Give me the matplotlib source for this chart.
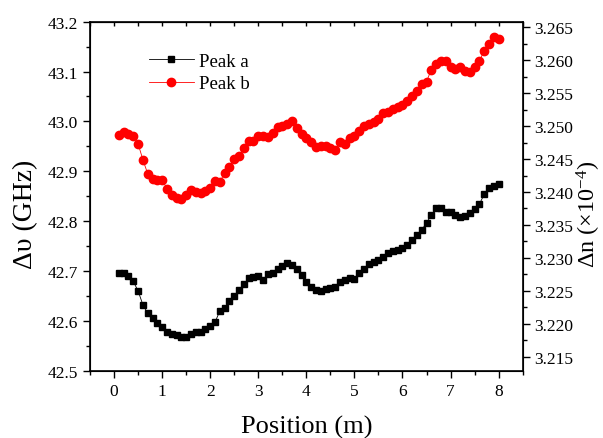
import matplotlib
matplotlib.use("Agg")
import matplotlib.pyplot as plt
from matplotlib.ticker import MultipleLocator, FormatStrFormatter

plt.rcParams['font.family'] = ['Liberation Serif', 'DejaVu Serif']
plt.rcParams['mathtext.default'] = 'regular'

# Posizioni (m)
position = [0.1, 0.2, 0.3, 0.4, 0.5, 0.6, 0.7, 0.8, 0.9, 1.0,
            1.1, 1.2, 1.3, 1.4, 1.5, 1.6, 1.7, 1.8, 1.9, 2.0,
            2.1, 2.2, 2.3, 2.4, 2.5, 2.6, 2.7, 2.8, 2.9, 3.0,
            3.1, 3.2, 3.3, 3.4, 3.5, 3.6, 3.7, 3.8, 3.9, 4.0,
            4.1, 4.2, 4.3, 4.4, 4.5, 4.6, 4.7, 4.8, 4.9, 5.0,
            5.1, 5.2, 5.3, 5.4, 5.5, 5.6, 5.7, 5.8, 5.9, 6.0,
            6.1, 6.2, 6.3, 6.4, 6.5, 6.6, 6.7, 6.8, 6.9, 7.0,
            7.1, 7.2, 7.3, 7.4, 7.5, 7.6, 7.7, 7.8, 7.9, 8.0]

# Picco a (GHz)
peak_a = [42.695, 42.695, 42.689, 42.679, 42.660, 42.632, 42.615, 42.605, 42.595, 42.587,
          42.578, 42.574, 42.571, 42.567, 42.568, 42.573, 42.577, 42.578, 42.583, 42.589,
          42.597, 42.620, 42.625, 42.639, 42.649, 42.662, 42.673, 42.685, 42.687, 42.689,
          42.681, 42.693, 42.695, 42.703, 42.711, 42.717, 42.712, 42.703, 42.691, 42.677,
          42.667, 42.662, 42.660, 42.664, 42.665, 42.667, 42.677, 42.681, 42.685, 42.683,
          42.696, 42.704, 42.714, 42.718, 42.722, 42.729, 42.737, 42.741, 42.743, 42.746,
          42.752, 42.762, 42.772, 42.782, 42.797, 42.812, 42.826, 42.827, 42.819, 42.818,
          42.812, 42.808, 42.811, 42.816, 42.824, 42.834, 42.854, 42.866, 42.871, 42.874]

# Picco b (GHz)
peak_b = [42.972, 42.978, 42.975, 42.971, 42.955, 42.923, 42.895, 42.885, 42.882, 42.883,
          42.865, 42.853, 42.847, 42.845, 42.853, 42.862, 42.858, 42.857, 42.860, 42.867,
          42.880, 42.878, 42.897, 42.908, 42.925, 42.930, 42.947, 42.960, 42.960, 42.970,
          42.970, 42.969, 42.977, 42.989, 42.991, 42.995, 43.000, 42.986, 42.975, 42.966,
          42.958, 42.948, 42.951, 42.950, 42.946, 42.943, 42.959, 42.955, 42.966, 42.970,
          42.981, 42.990, 42.995, 42.999, 43.005, 43.017, 43.019, 43.025, 43.028, 43.033,
          43.040, 43.050, 43.062, 43.075, 43.080, 43.104, 43.115, 43.122, 43.122, 43.109,
          43.105, 43.109, 43.102, 43.100, 43.109, 43.121, 43.142, 43.155, 43.169, 43.165]

fig = plt.figure(figsize=(6.03, 4.39), dpi=100)
ax = fig.add_axes([0.1493, 0.1533, 0.7175, 0.7950])

ax.plot(position, peak_a, color='black', marker='s', markersize=5, linewidth=0.6, label='Peak a')
ax.plot(position, peak_b, color='red', marker='o', markersize=6, linewidth=0.6, label='Peak b')

ax.set_xlim(-0.5, 8.5)
ax.set_ylim(42.5, 43.2)
ax.xaxis.set_major_locator(MultipleLocator(1))
ax.xaxis.set_minor_locator(MultipleLocator(0.5))
ax.yaxis.set_major_locator(MultipleLocator(0.1))
ax.yaxis.set_minor_locator(MultipleLocator(0.05))
ax.yaxis.set_major_formatter(FormatStrFormatter('%.1f'))

ax.tick_params(which='both', direction='out', labelsize=12.5, width=1, top=False)
ax.tick_params(which='major', length=5)
ax.tick_params(which='minor', length=3)
for s in ax.spines.values():
    s.set_linewidth(1.2)

# tacche interne sul bordo superiore
top = ax.secondary_xaxis('top')
top.xaxis.set_major_locator(MultipleLocator(0.5))
top.tick_params(direction='in', length=3, width=1, labeltop=False)
top.set_xticklabels([])

ax.set_xlabel('Position (m)', fontsize=19)
ax.xaxis.set_label_coords(0.5, -0.127)
ax.set_ylabel('Δυ (GHz)', fontsize=20)
ax.yaxis.set_label_coords(-0.120, 0.45)

ax2 = ax.twinx()
ax2.set_ylim(3.21287, 3.26585)
ax2.yaxis.set_major_locator(MultipleLocator(0.005))
ax2.yaxis.set_minor_locator(MultipleLocator(0.0025))
ax2.yaxis.set_major_formatter(FormatStrFormatter('%.3f'))
ax2.tick_params(which='both', direction='out', labelsize=12.5, width=1)
ax2.tick_params(which='major', length=5)
ax2.tick_params(which='minor', length=3)
ax2.set_ylabel('Δn (×10$^{-4}$)', fontsize=17.5, rotation=90)
ax2.yaxis.set_label_coords(1.120, 0.45)

ax.legend(loc='upper left', bbox_to_anchor=(0.136, 0.912), frameon=False,
          fontsize=13.5, handlelength=2.4, borderpad=0, borderaxespad=0,
          handletextpad=0.3, labelspacing=0.3)

fig.savefig('out.png', dpi=100)
